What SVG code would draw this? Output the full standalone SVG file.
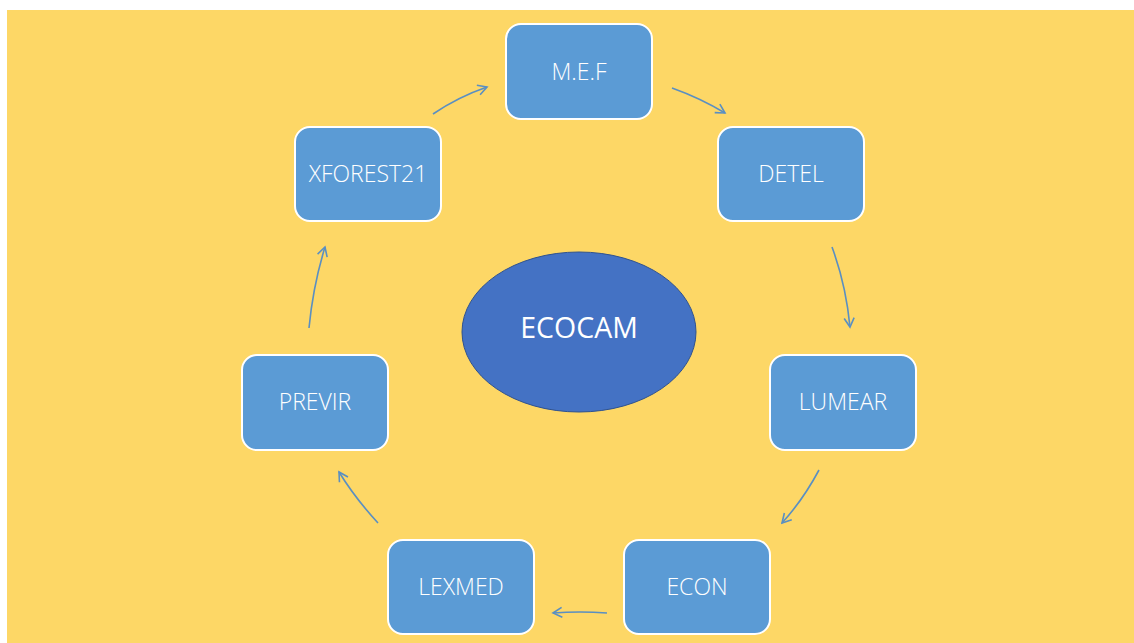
<svg xmlns="http://www.w3.org/2000/svg" width="1134" height="643" viewBox="0 0 1134 643">
<defs>
<style>
.box{fill:#5B9BD5;stroke:#FFFFFF;stroke-width:2}
.lbl{font-family:"Open Sans","Liberation Sans",sans-serif;font-weight:300;font-size:23px;fill:#FFFFFF;text-anchor:middle}
.conn{fill:none;stroke:#5A8FC2;stroke-width:1.6}
</style>
<marker id="ah" viewBox="0 0 12 12" refX="10" refY="6" markerWidth="12" markerHeight="12" markerUnits="userSpaceOnUse" orient="auto">
<path d="M1,1 L10,6 L1,11" fill="none" stroke="#5A8FC2" stroke-width="1.6"/>
</marker>
</defs>
<rect x="0" y="0" width="1134" height="643" fill="#FFFFFF"/>
<rect x="7" y="10" width="1127" height="633" fill="#FDD766"/>
<g id="connectors">
<path class="conn" d="M433,114 Q458,97 487,87" marker-end="url(#ah)"/>
<path class="conn" d="M672,88 Q700,98 725,113" marker-end="url(#ah)"/>
<path class="conn" d="M832,247 Q846,285 850,327" marker-end="url(#ah)"/>
<path class="conn" d="M819,470 Q803,500 782,523" marker-end="url(#ah)"/>
<path class="conn" d="M607,613 Q580,611 553,613" marker-end="url(#ah)"/>
<path class="conn" d="M378,523 Q355,498 339,472" marker-end="url(#ah)"/>
<path class="conn" d="M309,328 Q313,286 325,247" marker-end="url(#ah)"/>
</g>
<g id="ecocam">
<ellipse cx="579" cy="332" rx="117" ry="80" fill="#4472C4" stroke="#2F528F" stroke-width="1"/>
<text x="579" y="338" class="lbl" style="font-size:28.5px;font-weight:400">ECOCAM</text>
</g>
<g id="mef">
<rect class="box" x="506" y="24" width="146" height="95" rx="15"/>
<text class="lbl" x="579" y="80">M.E.F</text>
</g>
<g id="detel">
<rect class="box" x="718" y="127" width="146" height="94" rx="15"/>
<text class="lbl" x="791" y="182">DETEL</text>
</g>
<g id="lumear">
<rect class="box" x="770" y="355" width="146" height="95" rx="15"/>
<text class="lbl" x="843" y="410">LUMEAR</text>
</g>
<g id="econ">
<rect class="box" x="624" y="540" width="146" height="94" rx="15"/>
<text class="lbl" x="697" y="595">ECON</text>
</g>
<g id="lexmed">
<rect class="box" x="388" y="540" width="146" height="94" rx="15"/>
<text class="lbl" x="461" y="595">LEXMED</text>
</g>
<g id="previr">
<rect class="box" x="242" y="355" width="146" height="95" rx="15"/>
<text class="lbl" x="315" y="410">PREVIR</text>
</g>
<g id="xforest21">
<rect class="box" x="295" y="127" width="146" height="94" rx="15"/>
<text class="lbl" x="368" y="182">XFOREST21</text>
</g>
</svg>
